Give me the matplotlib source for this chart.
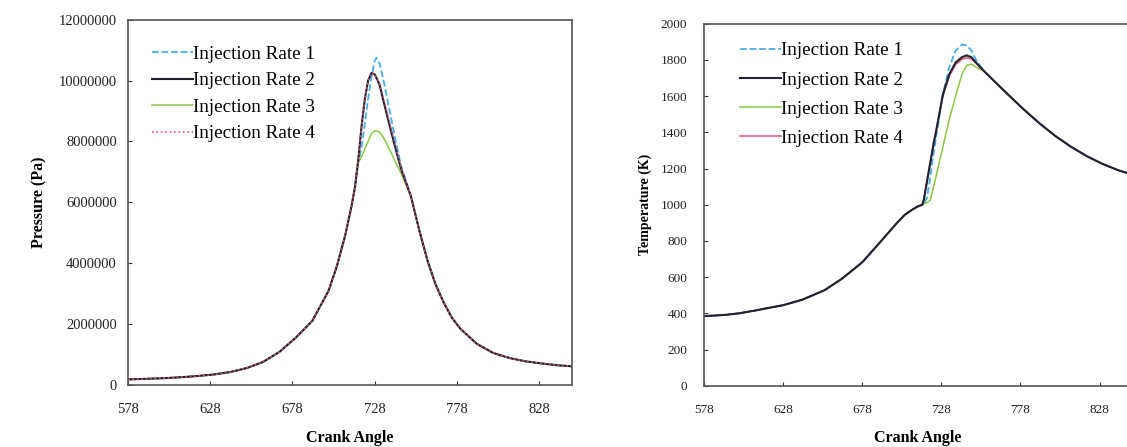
import numpy as np
import matplotlib.pyplot as plt

plt.rcParams['font.family'] = ['Liberation Serif', 'DejaVu Serif']

# ---- pressure data (Pa) ----
ang_common_p = [578, 590, 600, 610, 620, 630, 640, 650, 660, 670, 680, 690, 700, 705, 710, 714, 716]
p_common = [0.18e6, 0.20e6, 0.22e6, 0.25e6, 0.29e6, 0.34e6, 0.42e6, 0.55e6, 0.75e6, 1.08e6,
            1.55e6, 2.1e6, 3.1e6, 3.9e6, 4.9e6, 5.9e6, 6.5e6]

ang_p_mid = [718, 720, 722, 724, 726, 728, 729, 731, 733, 736, 740, 744]
p_rate1_mid = [7.3e6, 7.8e6, 8.6e6, 9.4e6, 10.1e6, 10.65e6, 10.75e6, 10.55e6, 10.1e6, 9.3e6, 8.2e6, 7.2e6]
p_rate2_mid = [7.4e6, 8.5e6, 9.4e6, 10.0e6, 10.25e6, 10.2e6, 10.1e6, 9.85e6, 9.4e6, 8.75e6, 7.9e6, 7.1e6]
p_rate3_mid = [7.3e6, 7.5e6, 7.75e6, 8.0e6, 8.25e6, 8.35e6, 8.35e6, 8.3e6, 8.15e6, 7.85e6, 7.4e6, 6.95e6]
p_rate4_mid = [7.4e6, 8.5e6, 9.4e6, 10.0e6, 10.25e6, 10.22e6, 10.12e6, 9.9e6, 9.5e6, 8.85e6, 8.0e6, 7.15e6]

ang_p_tail = [750, 755, 760, 765, 770, 775, 780, 790, 800, 810, 820, 830, 840, 848]
p_tail = [6.2e6, 5.1e6, 4.1e6, 3.3e6, 2.7e6, 2.2e6, 1.85e6, 1.35e6, 1.05e6, 0.88e6,
          0.77e6, 0.70e6, 0.64e6, 0.61e6]

# ---- temperature data (K) ----
ang_common_t = [578, 585, 592, 600, 610, 620, 628, 640, 654, 665, 678, 690, 700, 705, 710, 713, 716]
t_common = [385, 388, 392, 400, 415, 432, 445, 475, 527, 590, 682, 800, 900, 945, 975, 990, 1000]

ang_t_mid = [717, 719, 721, 723, 725, 729, 733, 737, 741, 744, 747, 750]
t_rate1_mid = [1003, 1040, 1150, 1280, 1390, 1610, 1760, 1850, 1885, 1880, 1852, 1800]
t_rate2_mid = [1030, 1130, 1230, 1330, 1420, 1610, 1720, 1785, 1815, 1825, 1815, 1785]
t_rate3_mid = [1005, 1012, 1025, 1095, 1170, 1320, 1470, 1600, 1720, 1770, 1776, 1760]
t_rate4_mid = [1035, 1140, 1240, 1340, 1425, 1600, 1710, 1775, 1803, 1812, 1805, 1780]

ang_t_tail = [755, 760, 770, 780, 790, 800, 810, 820, 830, 840, 848]
t_tail = [1738, 1695, 1610, 1527, 1450, 1380, 1320, 1268, 1225, 1190, 1168]

labels = ['Injection Rate 1', 'Injection Rate 2', 'Injection Rate 3', 'Injection Rate 4']
colors = ['#45aee8', '#1e2233', '#8dc63f', '#e8506e']
xticks = [578, 628, 678, 728, 778, 828]

fig = plt.figure(figsize=(11.27, 4.47), dpi=100)
ax1 = fig.add_axes([0.1136, 0.139, 0.394, 0.817])
ax2 = fig.add_axes([0.6247, 0.137, 0.379, 0.81])


def full(ac, vc, am, vm, at, vt):
    return np.array(ac + am + at), np.array(vc + vm + vt)


# pressure
p_series = [p_rate1_mid, p_rate2_mid, p_rate3_mid, p_rate4_mid]
p_styles = ['--', '-', '-', ':']
p_widths = [1.3, 1.5, 1.1, 1.2]
for i in [0, 2, 1, 3]:
    x, y = full(ang_common_p, p_common, ang_p_mid, p_series[i], ang_p_tail, p_tail)
    ax1.plot(x, y, p_styles[i], color=colors[i], lw=p_widths[i], label=labels[i])

# temperature
t_series = [t_rate1_mid, t_rate2_mid, t_rate3_mid, t_rate4_mid]
t_styles = ['--', '-', '-', '-']
t_widths = [1.3, 1.5, 1.1, 1.1]
for i in [0, 2, 3, 1]:
    x, y = full(ang_common_t, t_common, ang_t_mid, t_series[i], ang_t_tail, t_tail)
    ax2.plot(x, y, t_styles[i], color=colors[i], lw=t_widths[i], label=labels[i])

leg_pos = [(0.054, 0.93), (0.084, 0.95)]
leg_space = [0.48, 0.62]
for ax, pos, sp in zip((ax1, ax2), leg_pos, leg_space):
    ax.set_xlim(578, 848)
    ax.set_xticks(xticks)
    ax.tick_params(direction='in', length=3, colors='#333333', labelcolor='#222222')
    ax.tick_params(axis='x', pad=13)
    for s in ax.spines.values():
        s.set_color('#555555')
        s.set_linewidth(1.2)
    ax.set_xlabel('Crank Angle', fontsize=11.5, fontweight='bold', labelpad=10)
    handles, labs = ax.get_legend_handles_labels()
    order = [labs.index(l) for l in labels]
    ax.legend([handles[k] for k in order], labels, loc='upper left', frameon=False,
              fontsize=13.8, handlelength=2.15, handletextpad=0.0, labelspacing=sp,
              bbox_to_anchor=pos, borderaxespad=0, borderpad=0)

ax1.set_ylim(0, 12000000)
ax1.set_yticks(np.arange(0, 12000001, 2000000))
ax1.set_yticklabels([str(v) for v in range(0, 12000001, 2000000)])
ax1.tick_params(axis='both', labelsize=10.5)
ax1.tick_params(axis='y', pad=8)
ax1.set_ylabel('Pressure (Pa)', fontsize=11.5, fontweight='bold', labelpad=8)

ax2.set_ylim(0, 2000)
ax2.set_yticks(np.arange(0, 2001, 200))
ax2.tick_params(axis='both', labelsize=9.5)
ax2.tick_params(axis='y', pad=12)
ax2.set_ylabel('Temperature (K)', fontsize=10, fontweight='bold', labelpad=6)

fig.savefig('out.png', dpi=100)
